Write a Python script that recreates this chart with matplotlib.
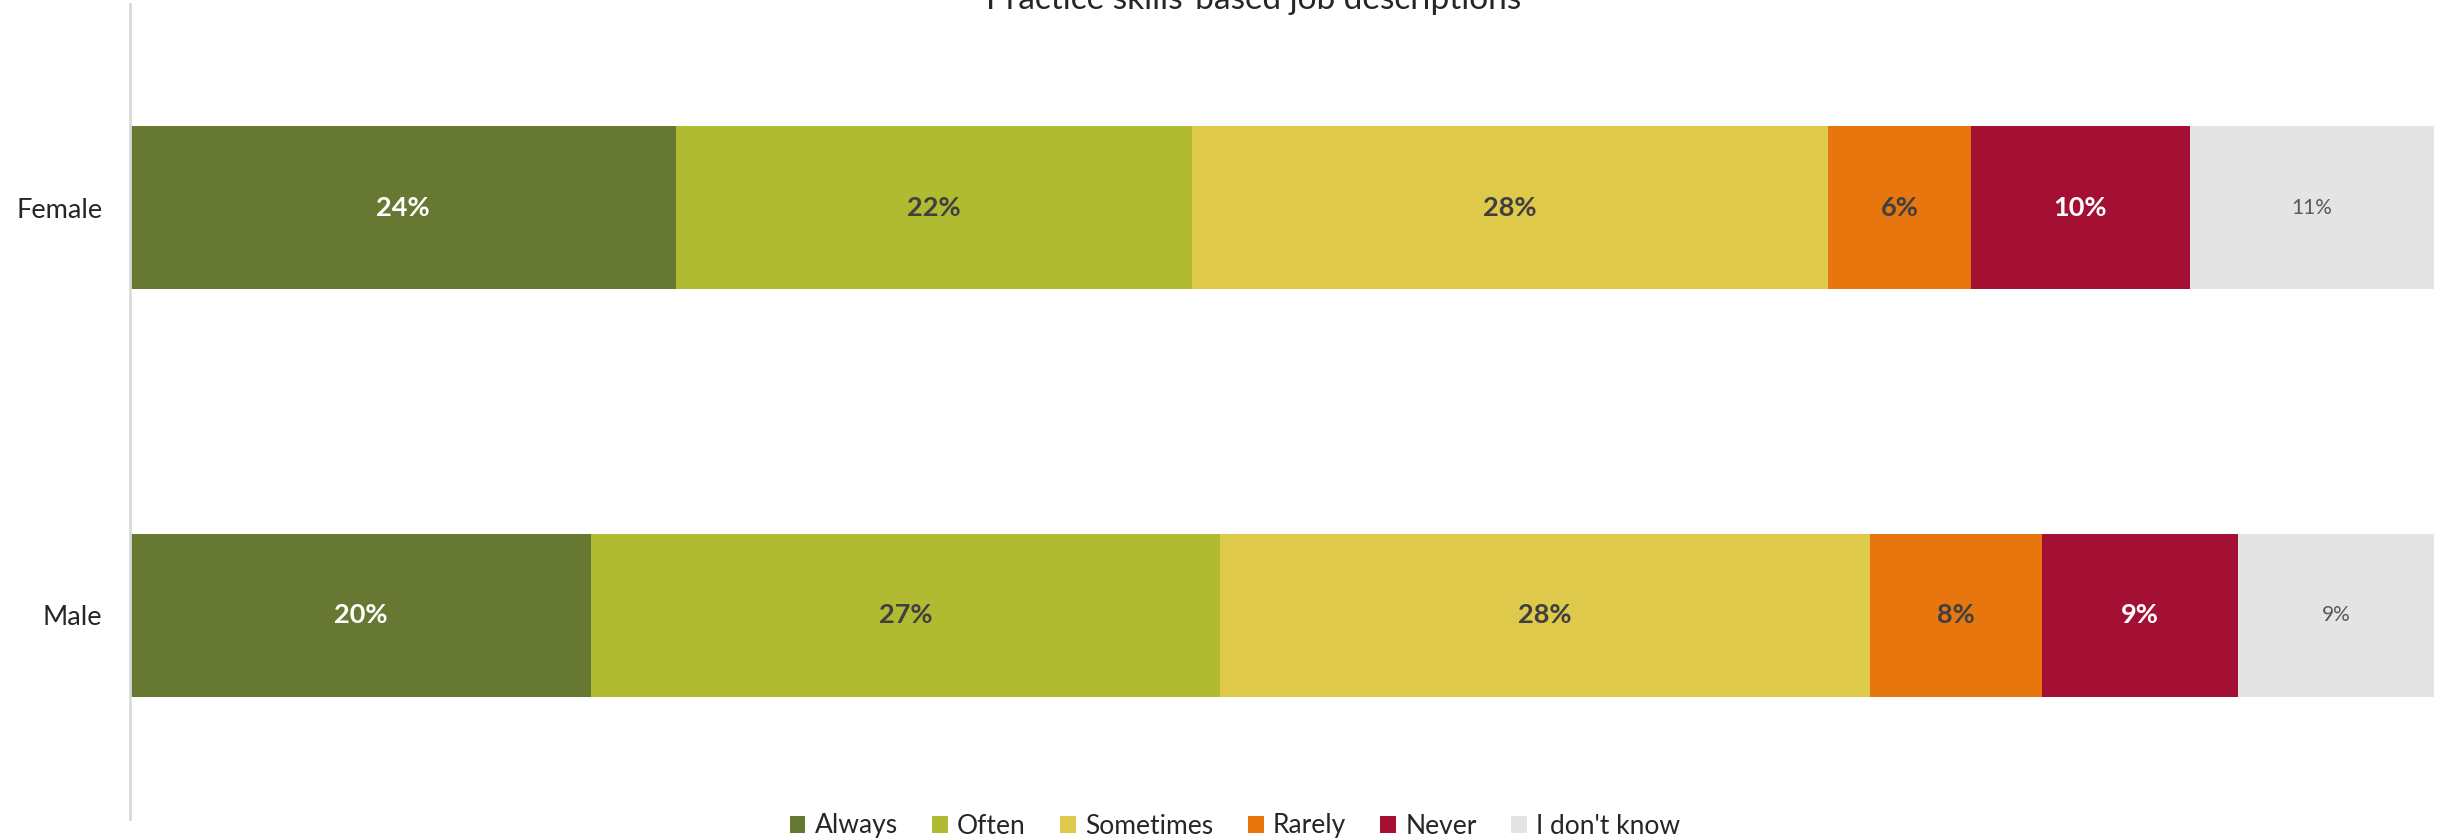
import matplotlib
matplotlib.use('Agg')
import matplotlib.pyplot as plt
from matplotlib.patches import Patch

plt.rcParams['font.family'] = ['Lato', 'DejaVu Sans']

# Data (share of respondents, %)
groups = ['Female', 'Male']
answers = ['Always', 'Often', 'Sometimes', 'Rarely', 'Never', "I don't know"]
female = [23.7, 22.4, 27.6, 6.2, 9.5, 10.6]
male = [20.0, 27.3, 28.2, 7.5, 8.5, 8.5]
female_labels = ['24%', '22%', '28%', '6%', '10%', '11%']
male_labels = ['20%', '27%', '28%', '8%', '9%', '9%']

colors = ['#667832', '#B1BB32', '#DFC94B', '#E6760D', '#A31034', '#E4E4E4']
label_colors = ['white', '#404040', '#404040', '#404040', 'white', '#595959']

fig = plt.figure(figsize=(24.53, 8.39), dpi=100)
ax = fig.add_axes([130 / 2453, 20 / 839, (2434 - 130) / 2453, 815 / 839])

values = [female, male]
labels = [female_labels, male_labels]
for gi, g in enumerate(groups):
    left = 0
    for i, v in enumerate(values[gi]):
        ax.barh(gi, v, left=left, height=0.4, color=colors[i], edgecolor='none')
        bold = i < 5
        ax.text(left + v / 2, gi, labels[gi][i], ha='center', va='center',
                color=label_colors[i], fontsize=19.5 if bold else 15,
                fontweight='bold' if bold else 'normal')
        left += v

ax.set_xlim(0, 100)
ax.set_ylim(1.5, -0.5)
ax.set_yticks(range(len(groups)))
ax.set_yticklabels(groups, fontsize=19.5, color='#262626')
ax.tick_params(axis='y', length=0, pad=20)
ax.set_xticks([])
for s in ['top', 'right', 'bottom']:
    ax.spines[s].set_visible(False)
ax.spines['left'].set_color('#D9D9D9')
ax.spines['left'].set_linewidth(2)

# title sits partly above the top edge, as in the original export
fig.text(1254 / 2453, 1 - 9 / 839, 'Practice skills-based job descriptions',
         ha='center', va='baseline', fontsize=24, color='#262626')

handles = [Patch(facecolor=c, edgecolor='none') for c in colors]
fig.legend(handles, answers, loc='center', bbox_to_anchor=(1235 / 2453, 1 - 826 / 839),
           ncol=6, frameon=False, fontsize=19, handlelength=0.6, handleheight=0.6,
           handletextpad=0.35, columnspacing=1.3, labelcolor='#262626')

fig.savefig('out.png', dpi=100)
